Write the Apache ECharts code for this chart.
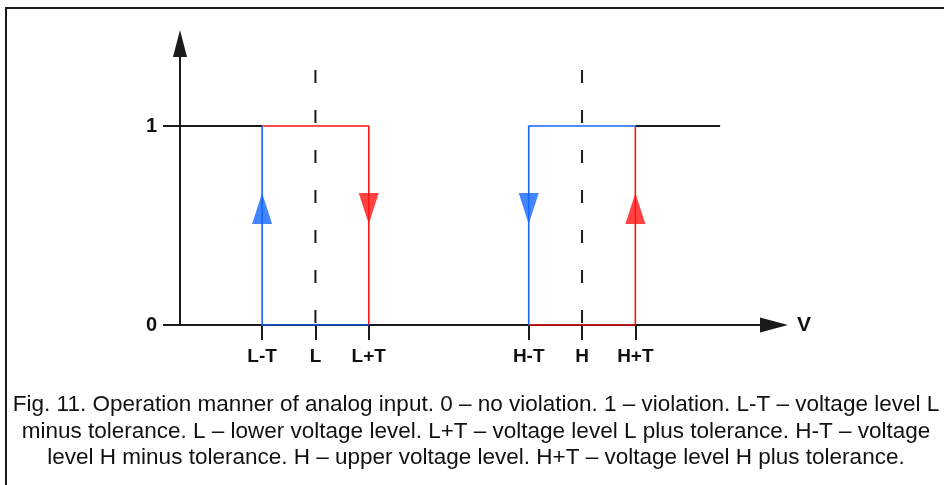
<!DOCTYPE html>
<html>
<head>
<meta charset="utf-8">
<style>html,body{margin:0;padding:0;background:#fff;}#c{width:944px;height:485px;}</style>
<script src="https://cdn.jsdelivr.net/npm/echarts@6/dist/echarts.min.js"></script>
</head>
<body>
<div id="c"></div>
<script>
// Voltage positions (arbitrary units, T = 1)
const tickNames = ['L-T', 'L', 'L+T', 'H-T', 'H', 'H+T'];
const tickValues = [1.54, 2.54, 3.54, 6.54, 7.54, 8.54];
const yTicks = [0, 1];
// Output state lines
const blackHigh1 = [[0, 1], [1.54, 1]];
const blackHigh2 = [[8.54, 1], [10.13, 1]];
const blackLow = [[3.54, 0], [6.54, 0]];
const redLow = [[1.54, 1], [3.54, 1], [3.54, 0]];
const blueLow = [[3.54, 0], [1.54, 0], [1.54, 1]];
const blueHigh = [[8.54, 1], [6.54, 1], [6.54, 0]];
const redHigh = [[6.54, 0], [8.54, 0], [8.54, 1]];
const dashL = [[2.54, 1.281], [2.54, 0]];
const dashH = [[7.54, 1.281], [7.54, 0]];
const arrowsUpBlue = [[1.54, 0.585]];
const arrowsDownRed = [[3.54, 0.585]];
const arrowsDownBlue = [[6.54, 0.585]];
const arrowsUpRed = [[8.54, 0.585]];
const caption = 'Fig. 11. Operation manner of analog input. 0 \u2013 no violation. 1 \u2013 violation. L-T \u2013 voltage level L\nminus tolerance. L \u2013 lower voltage level. L+T \u2013 voltage level L plus tolerance. H-T \u2013 voltage\nlevel H minus tolerance. H \u2013 upper voltage level. H+T \u2013 voltage level H plus tolerance.';

const AX = '#1a1a1a';
const BLUE = '#1466ff';
const RED = '#ff1414';
const labelFont = '"Liberation Sans", Arial, sans-serif';

function lineSeries(data, color, width, extra) {
  return Object.assign({
    type: 'line', data: data, symbol: 'none', silent: true, animation: false,
    lineStyle: { color: color, width: width }
  }, extra || {});
}
function arrowSeries(data, color, rot) {
  return {
    type: 'scatter', data: data, symbol: 'triangle', symbolSize: [20, 31],
    symbolRotate: rot, itemStyle: { color: color }, silent: true, animation: false, z: 5
  };
}

const chart = echarts.init(document.getElementById('c'), null, { renderer: 'canvas' });
chart.setOption({
  animation: false,
  grid: { left: 180, right: 170, top: 43.5, bottom: 160 },
  xAxis: {
    type: 'value', min: 0, max: 11.14,
    splitLine: { show: false },
    axisLine: { show: true, lineStyle: { color: AX, width: 2 }, symbol: ['none', 'triangle'], symbolSize: [15, 28] },
    axisTick: { show: true, customValues: tickValues, length: 15, lineStyle: { color: AX, width: 2 } },
    axisLabel: {
      customValues: tickValues, margin: 22, color: '#111', fontSize: 19, fontWeight: 'bold', fontFamily: labelFont,
      formatter: function (v) {
        for (let i = 0; i < tickValues.length; i++) if (Math.abs(tickValues[i] - v) < 1e-6) return tickNames[i];
        return '';
      }
    },
    name: 'V', nameLocation: 'end', nameGap: 23,
    nameTextStyle: { color: '#111', fontSize: 21, fontWeight: 'bold', fontFamily: labelFont, verticalAlign: 'middle', align: 'left' }
  },
  yAxis: {
    type: 'value', min: 0, max: 1.4146,
    splitLine: { show: false },
    axisLine: { show: true, lineStyle: { color: AX, width: 2 }, symbol: ['none', 'triangle'], symbolSize: [14, 27] },
    axisTick: { show: true, customValues: yTicks, length: 17, lineStyle: { color: AX, width: 2 } },
    axisLabel: { customValues: yTicks, margin: 23, color: '#111', fontSize: 20, fontWeight: 'bold', fontFamily: labelFont }
  },
  series: [
    lineSeries(blackHigh1, AX, 2),
    lineSeries(blackHigh2, AX, 2),
    lineSeries(blackLow, AX, 2),
    lineSeries(dashL, AX, 2, { lineStyle: { color: AX, width: 2, type: [13, 27] } }),
    lineSeries(dashH, AX, 2, { lineStyle: { color: AX, width: 2, type: [13, 27] } }),
    lineSeries(redLow, RED, 1.6),
    lineSeries(redHigh, RED, 1.6),
    lineSeries(blueLow, BLUE, 1.6),
    lineSeries(blueHigh, BLUE, 1.6),
    arrowSeries(arrowsUpBlue, BLUE, 0),
    arrowSeries(arrowsDownRed, RED, 180),
    arrowSeries(arrowsDownBlue, BLUE, 180),
    arrowSeries(arrowsUpRed, RED, 0)
  ],
  graphic: [
    { type: 'rect', silent: true, shape: { x: 6, y: 8, width: 1000, height: 1000 }, style: { fill: 'none', stroke: AX, lineWidth: 2 } },
    { type: 'text', silent: true, x: 476, y: 392, style: { text: caption, align: 'center', verticalAlign: 'top', fill: '#111', fontSize: 22.5, lineHeight: 26.5, fontFamily: labelFont } }
  ]
});
</script>
</body>
</html>
